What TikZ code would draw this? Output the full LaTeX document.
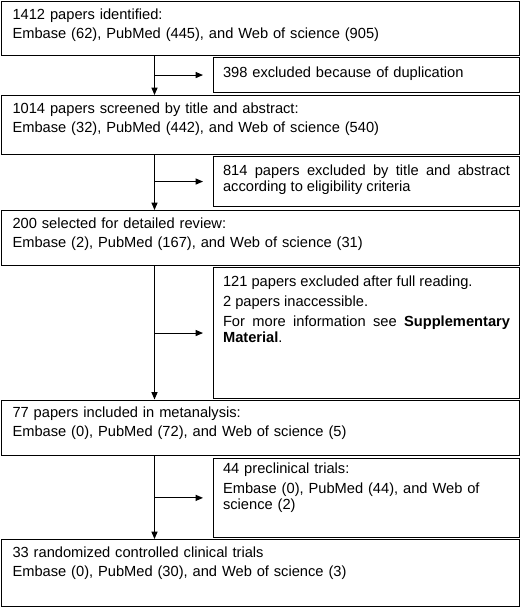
\documentclass[tikz,border=0pt]{standalone}
\usepackage{fontspec}
\setmainfont{Liberation Sans}
\usetikzlibrary{arrows.meta}
\tolerance=9999\relax
\hyphenpenalty=10000\relax
\tikzset{
  box/.style={draw, line width=0.8pt, anchor=north west, inner ysep=0pt,
    font=\fontsize{11pt}{12pt}\selectfont},
  mainbox/.style={box, text width=372pt, inner xsep=8.25pt, align=left, text height=13.125pt},
  sidebox/.style={box, text width=215.25pt, inner xsep=7.125pt, text height=14.25pt},
  flow/.style={line width=0.8pt, -{Triangle[length=5.5pt,width=4.5pt]}}
}

\begin{document}
\begin{tikzpicture}[x=0.75pt,y=-0.75pt]
\useasboundingbox (0,0) rectangle (520,607);
\coordinate (spine) at (154.5,0);
\node[mainbox, text depth=27.5pt] (m1) at (1,1) {1412 papers identified:\par\vspace{2.25pt}Embase (62), PubMed (445), and Web of science (905)};
\node[sidebox, align=left, text height=15pt, text depth=11.25pt] (s1) at (213,57) {398 excluded because of duplication};
\node[mainbox, text depth=31.125pt] (m2) at (1,95) {1014 papers screened by title and abstract:\par\vspace{2.25pt}Embase (32), PubMed (442), and Web of science (540)};
\node[sidebox, align=justify, text depth=23.25pt] (s2) at (213,156) {814 papers excluded by title and abstract according to eligibility criteria};
\node[mainbox, text depth=28.125pt] (m3) at (1,210) {200 selected for detailed review:\par\vspace{2.25pt}Embase (2), PubMed (167), and Web of science (31)};
\node[sidebox, align=justify, text depth=84pt] (s3) at (213,267) {121 papers excluded after full reading.\par\vspace{3pt}2 papers inaccessible.\par\vspace{3pt}For more information see \textbf{Supplementary Material}.};
\node[mainbox, text depth=28.5pt] (m4) at (1,399.5) {77 papers included in metanalysis:\par\vspace{2.25pt}Embase (0), PubMed (72), and Web of science (5)};
\node[sidebox, align=left, text height=11.625pt, text depth=47.85pt] (s4) at (213,457.7) {44 preclinical trials:\par\vspace{3pt}Embase (0), PubMed (44), and Web of science (2)};
\node[mainbox, text depth=37.125pt] (m5) at (1,539) {33 randomized controlled clinical trials\par\vspace{2.25pt}Embase (0), PubMed (30), and Web of science (3)};

\draw[flow] (m1.south -| spine) -- (m2.north -| spine);
\draw[flow] (m2.south -| spine) -- (m3.north -| spine);
\draw[flow] (m3.south -| spine) -- (m4.north -| spine);
\draw[flow] (m4.south -| spine) -- (m5.north -| spine);
\draw[flow] (s1.west -| spine) -- ([xshift=-7.5pt]s1.west);
\draw[flow] (s2.west -| spine) -- ([xshift=-7.5pt]s2.west);
\draw[flow] (s3.west -| spine) -- ([xshift=-7.5pt]s3.west);
\draw[flow] (s4.west -| spine) -- ([xshift=-7.5pt]s4.west);
\end{tikzpicture}
\end{document}
